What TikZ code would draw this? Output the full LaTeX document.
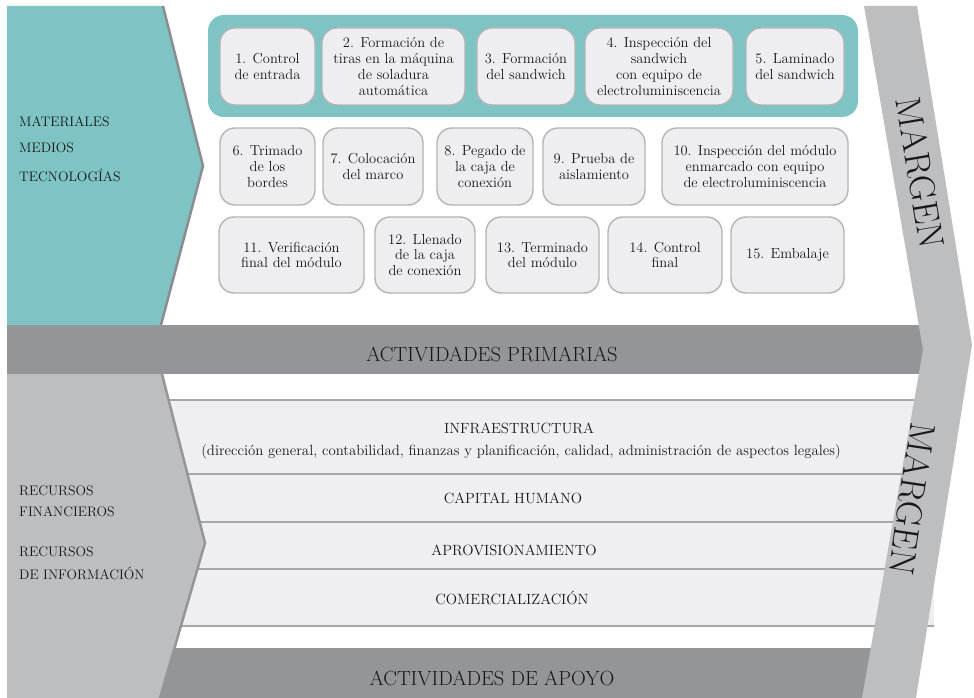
\documentclass[tikz,border=0pt]{standalone}
\usepackage{tikz}
\definecolor{teal1}{HTML}{7FC4C4}
\definecolor{darkbar}{HTML}{939598}
\definecolor{band}{HTML}{BDBEC0}
\definecolor{rowfill}{HTML}{EFEFF1}
\definecolor{rowline}{HTML}{A5A7AA}
\definecolor{boxfill}{HTML}{EEEEF0}
\definecolor{boxline}{HTML}{B3B4B6}
\definecolor{edge}{HTML}{8A8C8F}
\definecolor{txt}{HTML}{1A1718}
\begin{document}
\begin{tikzpicture}[x=1pt,y=-1pt,
 stepbox/.style={draw=boxline, line width=1.4pt, fill=boxfill, rounded corners=15pt, align=center, inner sep=0pt, text=txt, font=\fontsize{14.5}{15.8}\selectfont},
 lbl/.style={anchor=west, inner sep=0pt, text=txt, font=\fontsize{13.8}{15}\selectfont},
 rowlbl/.style={inner sep=0pt, text=txt, font=\fontsize{14.8}{16}\selectfont},
 head/.style={inner sep=0pt, text=txt, font=\fontsize{20.5}{23}\selectfont},
 margen/.style={inner sep=0pt, text=txt, font=\fontsize{36}{40}\selectfont}]
\useasboundingbox (0,0) rectangle (974,698);
\fill[white] (0,0) rectangle (974,698);
% support rows
\fill[rowfill] (165,400) rectangle (934,626);
\foreach \yy in {400,474,522,569,626} \draw[rowline, line width=1.5pt] (165,\yy) -- (934,\yy);
% bars
\fill[darkbar] (7,325) rectangle (935,374);
\fill[darkbar] (7,648) rectangle (900,698);
% margin band
\fill[band] (864,6) -- (917,6) -- (972,345) -- (916,698) -- (862,698) -- (923,350) -- cycle;
% teal input shape
\fill[teal1] (7,6) -- (163,6) -- (203,166) -- (161,325) -- (7,325) -- cycle;
\draw[edge, line width=2.5pt] (163,6) -- (203,166) -- (161,325);
% support input shape
\fill[band] (7,374) -- (162,374) -- (205,543) -- (160,698) -- (7,698) -- cycle;
\draw[darkbar, line width=2.5pt] (162,374) -- (205,543) -- (160,698);
% teal container
\fill[teal1, rounded corners=16pt] (208,15) rectangle (858,117);
% boxes row 1
\node[stepbox, minimum width=95pt, minimum height=77pt] (b1) at (267.5,66.5) {1. Control\\de entrada};
\node[stepbox, minimum width=143pt, minimum height=77pt] (b2) at (393.5,66.5) {2. Formación de\\tiras en la máquina\\de soladura\\automática};
\node[stepbox, minimum width=98pt, minimum height=77pt] (b3) at (526,66.5) {3. Formación\\del sandwich};
\node[stepbox, minimum width=148pt, minimum height=77pt] (b4) at (659,66.5) {4. Inspección del\\sandwich\\con equipo de\\electroluminiscencia};
\node[stepbox, minimum width=98pt, minimum height=77pt] (b5) at (795,66.5) {5. Laminado\\del sandwich};
% row 2
\node[stepbox, minimum width=95pt, minimum height=77pt] (b6) at (267.5,166.5) {6. Trimado\\de los\\bordes};
\node[stepbox, minimum width=100pt, minimum height=77pt] (b7) at (373,166.5) {7. Colocación\\del marco};
\node[stepbox, minimum width=96pt, minimum height=77pt] (b8) at (485,166.5) {8. Pegado de\\la caja de\\conexión};
\node[stepbox, minimum width=102pt, minimum height=77pt] (b9) at (594,166.5) {9. Prueba de\\aislamiento};
\node[stepbox, minimum width=186pt, minimum height=77pt] (b10) at (755,166.5) {10. Inspección del módulo\\enmarcado con equipo\\de electroluminiscencia};
% row 3
\node[stepbox, minimum width=145pt, minimum height=76pt] (b11) at (291.5,255) {11. Verificación\\final del módulo};
\node[stepbox, minimum width=100pt, minimum height=76pt] (b12) at (425,255) {12. Llenado\\de la caja\\de conexión};
\node[stepbox, minimum width=113pt, minimum height=76pt] (b13) at (542.5,255) {13. Terminado\\del módulo};
\node[stepbox, minimum width=114pt, minimum height=76pt] (b14) at (665,255) {14. Control\\final};
\node[stepbox, minimum width=113pt, minimum height=76pt] (b15) at (787.5,255) {15. Embalaje};
% left labels
\node[lbl] (l1) at (19,122) {MATERIALES};
\node[lbl] (l2) at (19,148) {MEDIOS};
\node[lbl] (l3) at (19,175) {TECNOLOGÍAS};
\node[lbl] (l4) at (19,491) {RECURSOS};
\node[lbl] (l5) at (19,512) {FINANCIEROS};
\node[lbl] (l6) at (19,552) {RECURSOS};
\node[lbl] (l7) at (19,573) {DE INFORMACIÓN};
% headers
\node[head] (hp) at (492,354) {ACTIVIDADES PRIMARIAS};
\node[head] (ha) at (492,678) {ACTIVIDADES DE APOYO};
% support rows text
\node[rowlbl] (r1) at (519,428) {INFRAESTRUCTURA};
\node[rowlbl] (r1b) at (521,452) {(dirección general, contabilidad, finanzas y planificación, calidad, administración de aspectos legales)};
\node[rowlbl] (r2) at (513,498) {CAPITAL HUMANO};
\node[rowlbl] (r3) at (514,550) {APROVISIONAMIENTO};
\node[rowlbl] (r4) at (512,598) {COMERCIALIZACIÓN};
% margins
\node[margen, rotate=-80.6] (m1) at (920,173) {MARGEN};
\node[margen, rotate=-98.5] (m2) at (912,499) {MARGEN};
\end{tikzpicture}
\end{document}
